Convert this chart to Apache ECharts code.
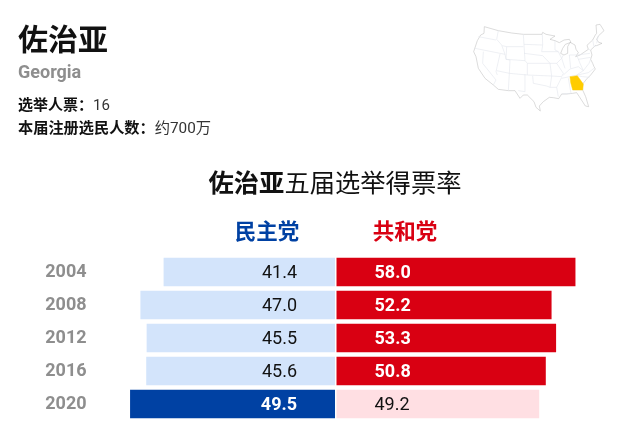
<!DOCTYPE html>
<html>
<head>
<meta charset="utf-8">
<title>佐治亚</title>
<style>
html, body { margin: 0; padding: 0; background: #fff; }
#chart { width: 631px; height: 439px; }
</style>
<script src="https://cdn.jsdelivr.net/npm/echarts@6/dist/echarts.min.js"></script>
</head>
<body>
<div id="chart"></div>
<script>
var years = ['2004', '2008', '2012', '2016', '2020'];
var demValues = [41.4, 47.0, 45.5, 45.6, 49.5];
var repValues = [58.0, 52.2, 53.3, 50.8, 49.2];

var FONT = 'Roboto, "Noto Sans CJK SC", sans-serif';
var DEM_DARK = '#0041a3', DEM_LIGHT = '#d3e4fb';
var REP_DARK = '#d90012', REP_LIGHT = '#ffdfe3';
var GREY = '#8e8e8e';

// 小地图，坐标按 3 倍放大的截图描的
var usOutline = [[133,80],[175,92],[215,99],[250,103],[306,103],[308,97],[318,103],[345,108],[330,118],[345,122],[358,128],[372,120],[388,118],[393,127],[376,133],[368,145],[362,160],[372,165],[383,160],[383,140],[390,127],[405,135],[408,148],[415,158],[407,170],[420,165],[445,148],[441,136],[458,120],[466,105],[470,100],[468,75],[480,73],[492,92],[476,107],[470,118],[476,127],[486,130],[470,137],[468,135],[452,150],[456,165],[452,178],[458,190],[462,200],[466,207],[452,225],[440,237],[428,252],[428,270],[437,290],[446,320],[436,318],[418,290],[410,278],[398,280],[380,282],[365,282],[356,296],[340,293],[328,292],[310,305],[298,318],[301,333],[288,322],[282,305],[262,285],[250,285],[240,295],[225,272],[205,272],[175,268],[160,255],[135,235],[115,205],[108,170],[101,155],[112,122],[122,105],[132,100]];
var usBorders = [
	[[115,110],[168,120]], [[175,92],[170,118],[185,135],[195,163]], [[105,145],[195,163]],
	[[187,137],[200,140],[250,140]], [[200,140],[198,178]], [[198,178],[255,182]], [[250,103],[255,182]],
	[[252,133],[307,135]], [[252,160],[308,167],[330,190]], [[210,180],[208,220]], [[255,182],[262,190],[262,225]],
	[[208,220],[262,225]], [[130,155],[128,190],[168,240],[160,255]], [[170,212],[208,220]], [[195,163],[198,178],[210,180]],
	[[180,162],[168,215],[172,225]], [[208,220],[205,272]], [[255,222],[255,275],[235,272]],
	[[262,225],[335,228]], [[278,228],[280,250],[320,258],[330,262]], [[262,190],[330,190],[335,228]],
	[[307,103],[308,135],[305,155]], [[305,155],[355,155],[365,175],[350,190],[330,190]], [[345,122],[345,150],[355,155]],
	[[350,190],[370,220],[365,230],[335,228]], [[335,228],[330,262],[350,262],[355,290]], [[365,232],[350,262]],
	[[365,235],[445,218]], [[370,225],[390,207],[415,200],[430,212],[410,225]], [[370,165],[365,175],[375,205]],
	[[388,165],[392,205]], [[388,165],[410,165],[420,190]], [[385,235],[393,280],[365,282]],
	[[398,270],[428,270]], [[412,227],[428,230],[448,232]], [[445,218],[462,205]], [[420,190],[430,212],[447,190],[452,178]],
	[[415,178],[452,172]], [[412,165],[450,160]], [[445,148],[452,150]], [[458,120],[462,140],[470,137]], [[475,107],[470,130]]
];
var georgiaShape = [[390,230],[412,227],[430,252],[428,270],[398,270],[392,248]];

function toPoints(pts) {
	return pts.map(function(p) { return [p[0] / 3, p[1] / 3]; });
}

var mapChildren = [{
	type: 'polygon',
	shape: { points: toPoints(usOutline) },
	style: { fill: '#fff', stroke: '#b8b8b8', lineWidth: 0.5 }
}];
usBorders.forEach(function(line) {
	mapChildren.push({
		type: 'polyline',
		shape: { points: toPoints(line) },
		style: { fill: null, stroke: '#e2e6ec', lineWidth: 0.6 }
	});
});
mapChildren.push({
	type: 'polygon',
	shape: { points: toPoints(georgiaShape) },
	style: { fill: '#ffcc00', stroke: '#ffcc00', lineWidth: 0.4 }
});

function textEl(x, y, text, size, weight, color, align) {
	return {
		type: 'text', x: x, y: y,
		style: {
			text: text, fontFamily: FONT, fontSize: size, fontWeight: weight,
			fill: color, textAlign: align || 'left', textVerticalAlign: 'middle'
		}
	};
}

// 每年赢的一方用深色，输的一方用浅色
function barData(values, others, dark, light) {
	return values.map(function(v, i) {
		var win = v > others[i];
		return {
			value: v,
			itemStyle: { color: win ? dark : light },
			label: { color: win ? '#fff' : '#111', fontWeight: win ? 'bold' : 'normal' }
		};
	});
}

var myChart = echarts.init(document.getElementById('chart'));

var option = {
	animation: false,
	backgroundColor: '#fff',
	textStyle: { fontFamily: FONT },
	grid: [
		{ left: 86.6, top: 255.5, width: 248.4, height: 165 },
		{ left: 336.5, top: 255.5, width: 247.2, height: 165 }
	],
	xAxis: [
		{ gridIndex: 0, type: 'value', min: 0, max: 60, inverse: true, show: false },
		{ gridIndex: 1, type: 'value', min: 0, max: 60, show: false }
	],
	yAxis: [
		{
			gridIndex: 0, type: 'category', data: years, inverse: true,
			axisLine: { show: false }, axisTick: { show: false },
			axisLabel: { color: GREY, fontFamily: FONT, fontSize: 18, fontWeight: 'bold', margin: 0, padding: [5, 0, 0, 0] }
		},
		{
			gridIndex: 1, type: 'category', data: years, inverse: true,
			axisLine: { show: false }, axisTick: { show: false }, axisLabel: { show: false }
		}
	],
	series: [
		{
			name: '民主党', type: 'bar', xAxisIndex: 0, yAxisIndex: 0, barWidth: 28.4,
			data: barData(demValues, repValues, DEM_DARK, DEM_LIGHT),
			label: {
				show: true, position: 'insideRight', distance: 38, offset: [0, 1.5], fontFamily: FONT, fontSize: 18,
				formatter: function(p) { return p.value.toFixed(1); }
			}
		},
		{
			name: '共和党', type: 'bar', xAxisIndex: 1, yAxisIndex: 1, barWidth: 28.4,
			data: barData(repValues, demValues, REP_DARK, REP_LIGHT),
			label: {
				show: true, position: 'insideLeft', distance: 38, offset: [0, 1.5], fontFamily: FONT, fontSize: 18,
				formatter: function(p) { return p.value.toFixed(1); }
			}
		}
	],
	graphic: [
		textEl(18, 42, '佐治亚', 30, 'bold', '#111'),
		textEl(18, 73, 'Georgia', 18, 'bold', GREY),
		{
			type: 'text', x: 18, y: 106,
			style: {
				text: '{b|选举人票：}{n|16}', textVerticalAlign: 'middle',
				rich: {
					b: { fontFamily: FONT, fontSize: 15, fontWeight: 'bold', fill: '#111' },
					n: { fontFamily: FONT, fontSize: 15, fill: '#333' }
				}
			}
		},
		{
			type: 'text', x: 18, y: 129,
			style: {
				text: '{b|本届注册选民人数：}{n|约700万}', textVerticalAlign: 'middle',
				rich: {
					b: { fontFamily: FONT, fontSize: 15.2, fontWeight: 'bold', fill: '#111' },
					n: { fontFamily: FONT, fontSize: 15.3, fill: '#333' }
				}
			}
		},
		{
			type: 'text', x: 335, y: 186,
			style: {
				text: '{b|佐治亚}{n|五届选举得票率}', textAlign: 'center', textVerticalAlign: 'middle',
				rich: {
					b: { fontFamily: FONT, fontSize: 25.3, fontWeight: 'bold', fill: '#111' },
					n: { fontFamily: FONT, fontSize: 25.3, fill: '#111' }
				}
			}
		},
		textEl(267, 234, '民主党', 21.5, 'bold', DEM_DARK, 'center'),
		textEl(405, 234, '共和党', 21.5, 'bold', REP_DARK, 'center'),
		{ type: 'group', x: 440, y: 0, silent: true, children: mapChildren }
	]
};

myChart.setOption(option);
</script>
</body>
</html>
